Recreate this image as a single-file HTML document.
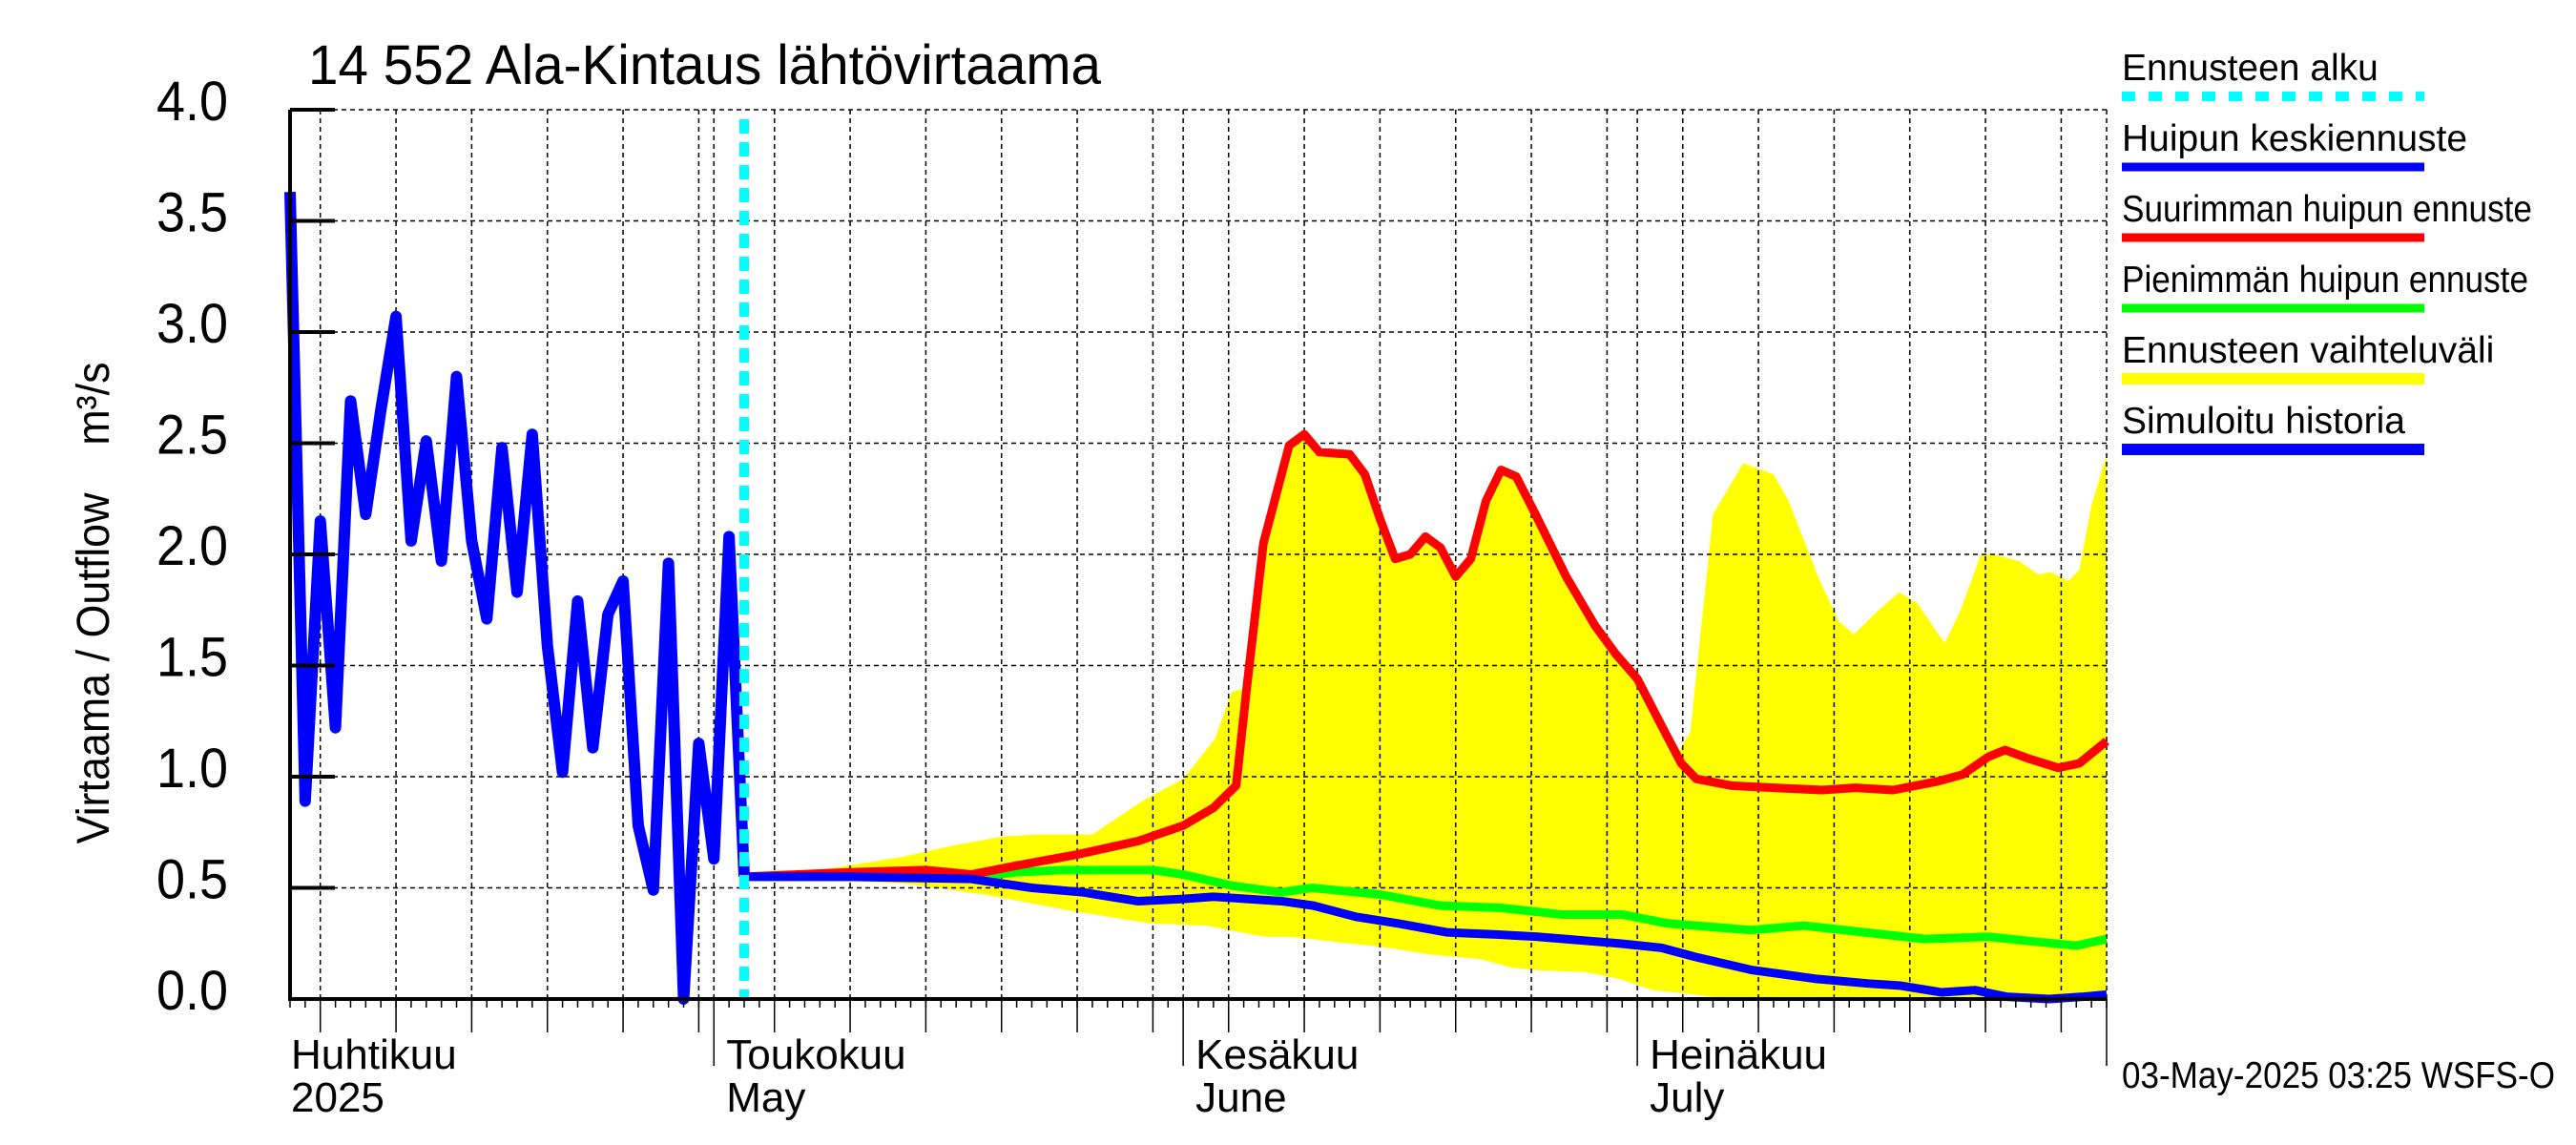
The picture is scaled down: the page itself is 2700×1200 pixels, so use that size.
<!DOCTYPE html>
<html><head><meta charset="utf-8"><style>
html,body{margin:0;padding:0;background:#fff;}
svg{display:block;font-family:"Liberation Sans",sans-serif;}
</style></head><body>
<svg id="chart" width="2700" height="1200" viewBox="0 0 2700 1200" xmlns="http://www.w3.org/2000/svg">
<rect width="2700" height="1200" fill="#fff"/>
<g id="band"></g>
<g id="grid"></g>
<g id="series"></g>
<g id="axes"></g>
<text x="323" y="88" font-size="58" textLength="831" lengthAdjust="spacingAndGlyphs">14 552 Ala-Kintaus lähtövirtaama</text>
<text transform="translate(114,632) rotate(-90)" text-anchor="middle" font-size="48" textLength="505" lengthAdjust="spacingAndGlyphs">Virtaama / Outflow &#160;&#160;&#160;m³/s</text>
<g>
 <g><text x="2224" y="84" font-size="39">Ennusteen alku</text><line x1="2224" y1="101" x2="2541" y2="101" stroke="#00ffff" stroke-width="10" stroke-dasharray="14 14"/></g>
 <g><text x="2224" y="158" font-size="39">Huipun keskiennuste</text><line x1="2224" y1="175" x2="2541" y2="175" stroke="#0000ff" stroke-width="9"/></g>
 <g><text x="2224" y="232" font-size="39" textLength="430" lengthAdjust="spacingAndGlyphs">Suurimman huipun ennuste</text><line x1="2224" y1="249" x2="2541" y2="249" stroke="#ff0000" stroke-width="9"/></g>
 <g><text x="2224" y="306" font-size="39" textLength="426" lengthAdjust="spacingAndGlyphs">Pienimmän huipun ennuste</text><line x1="2224" y1="323" x2="2541" y2="323" stroke="#00ff00" stroke-width="9"/></g>
 <g><text x="2224" y="380" font-size="39">Ennusteen vaihteluväli</text><line x1="2224" y1="397" x2="2541" y2="397" stroke="#ffff00" stroke-width="12"/></g>
 <g><text x="2224" y="454" font-size="39">Simuloitu historia</text><line x1="2224" y1="471" x2="2541" y2="471" stroke="#0000ff" stroke-width="12"/></g>
</g>
<text x="2224" y="1140" font-size="39" textLength="454" lengthAdjust="spacingAndGlyphs">03-May-2025 03:25 WSFS-O</text>
</svg>
<script>
const yTicks = [0,0.5,1.0,1.5,2.0,2.5,3.0,3.5,4.0];
const yTickLabels = ["0.0","0.5","1.0","1.5","2.0","2.5","3.0","3.5","4.0"];
const monthDays = [0,28,59,89];
const monthLabels1 = ["Huhtikuu","Toukokuu","Kesäkuu","Heinäkuu"];
const monthLabels2 = ["2025","May","June","July"];
const forecastStartDay = 30;
const histVals = [3.63,0.89,2.15,1.22,2.69,2.18,2.65,3.07,2.06,2.51,1.97,2.80,2.06,1.71,2.48,1.83,2.54,1.59,1.02,1.79,1.13,1.73,1.88,0.78,0.49,1.96,0.0,1.15,0.63,2.08,0.55];
const redDays = [30,37,42,45,48,52,56,59,61,62.5,63.2,64.3,66,67,68,70,71,72,73,74,75,76,77,78,79,80,81,82.2,84.3,86.2,87.6,89,90.9,91.9,92.9,95.2,98,101.2,103.4,105.9,108.9,110.5,112.2,113.3,114.9,116.8,118.2,120];
const redVals = [0.55,0.57,0.58,0.56,0.60,0.65,0.71,0.78,0.86,0.96,1.40,2.05,2.49,2.54,2.46,2.45,2.36,2.16,1.98,2.00,2.08,2.03,1.90,1.98,2.24,2.38,2.35,2.19,1.90,1.68,1.55,1.44,1.19,1.06,0.99,0.96,0.95,0.94,0.95,0.94,0.98,1.01,1.09,1.12,1.08,1.04,1.06,1.16];
const greenDays = [30,37,45.4,48,51,57,59,62.2,65.5,67.5,72,76,80,84,88,91,96.5,100,104,108,112.2,115,118,120];
const greenVals = [0.55,0.55,0.55,0.57,0.58,0.58,0.56,0.51,0.48,0.50,0.47,0.42,0.41,0.38,0.38,0.34,0.31,0.33,0.30,0.27,0.28,0.26,0.24,0.27];
const blueDays = [30,37,45,49,52.4,56,59,61,65.5,67.6,70.4,73.2,76.4,79.7,82.4,87.8,90.6,92.8,96.6,100.9,104.2,106.4,109.1,111.3,113.4,116.2,118.4,120];
const blueVals = [0.55,0.55,0.54,0.50,0.48,0.44,0.45,0.46,0.44,0.42,0.37,0.34,0.30,0.29,0.28,0.25,0.23,0.19,0.13,0.09,0.07,0.06,0.03,0.04,0.01,0.0,0.01,0.02];
const upperDays = [30,35,40.5,43.8,47,49.2,53,56.3,59,61.1,62.2,63.1,64.3,66,67,68,70,71,72,73,74,75,76,77,78,79,80,81,82.2,84.3,86.2,87.6,89,90.9,91.6,92.5,94,96,98,99,101,102.3,103.3,104.8,106.3,107.5,109.3,110.3,111.7,112.5,114.2,115.5,116.3,117.5,118.2,119,120];
const upperVals = [0.55,0.58,0.64,0.69,0.73,0.74,0.74,0.89,0.99,1.17,1.38,1.40,2.05,2.49,2.54,2.46,2.45,2.36,2.16,1.98,2.00,2.08,2.03,1.90,1.98,2.24,2.38,2.35,2.19,1.90,1.68,1.55,1.44,1.19,1.1,1.2,2.18,2.41,2.36,2.24,1.89,1.70,1.64,1.74,1.83,1.78,1.60,1.74,2.0,2.0,1.97,1.91,1.92,1.88,1.93,2.22,2.45];
const lowerDays = [30,40.5,45.9,51.3,56.8,60.6,62.8,64.4,66,68.7,72.6,75.3,78.6,80.8,82.4,85.7,87.8,90,92.8,95,120];
const lowerVals = [0.55,0.52,0.47,0.40,0.34,0.33,0.30,0.28,0.28,0.26,0.23,0.20,0.18,0.14,0.13,0.12,0.09,0.04,0.02,0.0,0.0];

const NS = "http://www.w3.org/2000/svg";
const X0 = 304, X1 = 2208, Y0 = 1047, Y1 = 115, DMAX = 120;
function xs(d){ return X0 + d * (X1 - X0) / DMAX; }
function ys(v){ return Y0 - v * (Y0 - Y1) / 4; }
function mk(tag, parent, attrs){ const e = document.createElementNS(NS, tag); for (const k in attrs) e.setAttribute(k, attrs[k]); parent.appendChild(e); return e; }
const band = document.getElementById('band'), grid = document.getElementById('grid'), series = document.getElementById('series'), axes = document.getElementById('axes');

let pts = upperDays.map((d,i)=>xs(d)+','+ys(upperVals[i]));
for (let i = lowerDays.length-1; i >= 0; i--) pts.push(xs(lowerDays[i])+','+ys(lowerVals[i]));
const poly = mk('polygon', band, {points: pts.join(' '), fill:'#ffff00'});



yTicks.forEach((v,i)=>{
  if (v > 0) { const g = mk('line', grid, {x1:X0, x2:X1, y1:ys(v), y2:ys(v), stroke:'#000', 'stroke-width':1.5, 'stroke-dasharray':'5 4'});
    
     }
  const t = mk('line', axes, {x1:X0, x2:X0+47, y1:ys(v), y2:ys(v), stroke:'#000', 'stroke-width':4});
  
  
  const lb = mk('text', axes, {x:239, y:ys(v)+11, 'text-anchor':'end', 'font-size':58, textLength:75, lengthAdjust:'spacingAndGlyphs'});
  lb.textContent = yTickLabels[i];
  
  
});
for (let d = 2; d < DMAX; d += 5) {
  const g = mk('line', grid, {x1:xs(d), x2:xs(d), y1:Y1, y2:Y0, stroke:'#000', 'stroke-width':1.5, 'stroke-dasharray':'5 4'});
  
  
  const t = mk('line', axes, {x1:xs(d), x2:xs(d), y1:Y0, y2:1082, stroke:'#000', 'stroke-width':1.5});
  
  
}
monthDays.forEach((d,i)=>{
  if (d > 0) { const g = mk('line', grid, {x1:xs(d), x2:xs(d), y1:Y1, y2:Y0, stroke:'#000', 'stroke-width':1.5, 'stroke-dasharray':'5 4'});
    
    
    const t = mk('line', axes, {x1:xs(d), x2:xs(d), y1:Y0, y2:1117, stroke:'#000', 'stroke-width':1.5});
    
     }
  const lx = d > 0 ? xs(d) + 13 : X0 + 1;
  const a = mk('text', axes, {x:lx, y:1120, 'font-size':44}); a.textContent = monthLabels1[i];
  
  
  const b = mk('text', axes, {x:lx, y:1165, 'font-size':44}); b.textContent = monthLabels2[i];
  
  
});
for (let d = 0; d <= DMAX; d++) {
  const t = mk('line', axes, {x1:xs(d), x2:xs(d), y1:Y0, y2:1056, stroke:'#000', 'stroke-width':1.5});
  
  
}
const rb = mk('line', grid, {x1:X1, x2:X1, y1:Y1, y2:Y0, stroke:'#000', 'stroke-width':1.5, 'stroke-dasharray':'5 4'});


const re = mk('line', axes, {x1:X1, x2:X1, y1:Y0, y2:1117, stroke:'#000', 'stroke-width':1.5});



function line(days, vals, color, w, name){
  const p = mk('polyline', series, {points: days.map((d,i)=>xs(d)+','+ys(vals[i])).join(' '), fill:'none', stroke:color, 'stroke-width':w, 'stroke-linejoin':'round'});
  
  
}
line(greenDays, greenVals, '#00ff00', 9, 'min-peak-forecast-line');
line(redDays, redVals, '#ff0000', 9, 'max-peak-forecast-line');
line(blueDays, blueVals, '#0000ff', 9, 'mean-peak-forecast-line');
line(histVals.map((v,i)=>i), histVals, '#0000ff', 12, 'simulated-history-line');
const fs = mk('line', series, {x1:xs(forecastStartDay), x2:xs(forecastStartDay), y1:Y1+10, y2:Y0, stroke:'#00ffff', 'stroke-width':10, 'stroke-dasharray':'15 9'});



const ax1 = mk('line', axes, {x1:X0, x2:X0, y1:Y1, y2:Y0+2, stroke:'#000', 'stroke-width':4});


const ax2 = mk('line', axes, {x1:X0, x2:X1, y1:Y0, y2:Y0, stroke:'#000', 'stroke-width':4});


</script>
</body></html>
